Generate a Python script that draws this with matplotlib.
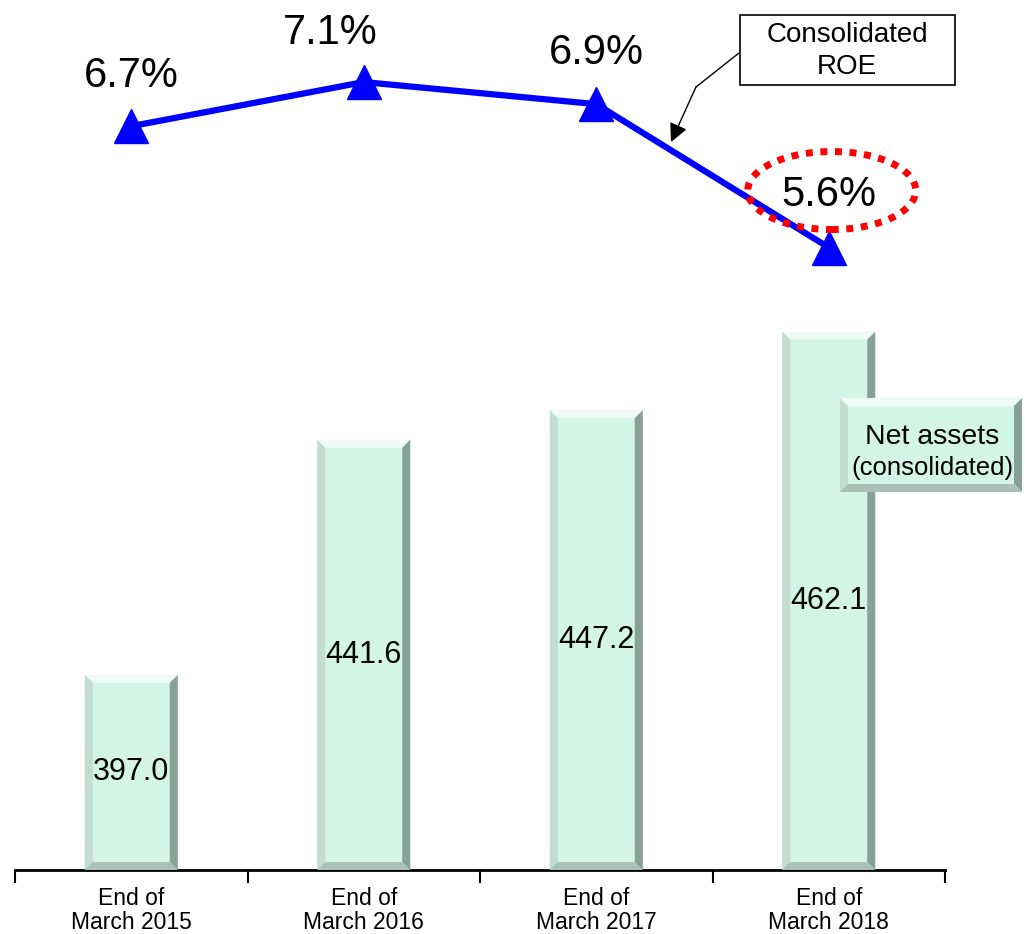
import numpy as np
import matplotlib.pyplot as plt
from matplotlib.patches import Ellipse, Polygon, Rectangle
from matplotlib.transforms import IdentityTransform

plt.rcParams['font.family'] = ['Liberation Sans', 'DejaVu Sans']

categories = ['End of\nMarch 2015', 'End of\nMarch 2016', 'End of\nMarch 2017', 'End of\nMarch 2018']
net_assets = [397.0, 441.6, 447.2, 462.1]
roe = [6.7, 7.1, 6.9, 5.6]
roe_labels = ['6.7%', '7.1%', '6.9%', '5.6%']

W, H = 1025, 934
fig = plt.figure(figsize=(W / 100, H / 100), dpi=100)
fig.patch.set_facecolor('white')

# bar axes (net assets)
ax = fig.add_axes([15 / W, 1 - 870 / H, 930 / W, 580 / H])
x = np.arange(len(categories))
ax.set_xlim(-0.5, 3.5)
ax.set_ylim(360, 470)

face = '#D2F5E7'
top_c, left_c, right_c, bot_c = '#EEFBF6', '#C3DCD2', '#86A197', '#A9C1B8'
bars = ax.bar(x, [v - 360 for v in net_assets], bottom=360, width=0.4,
              color=face, edgecolor='none', zorder=2)

bx = 8 / 232.5   # bevel width in data units (x)
by = 8 / 5.27    # bevel width in data units (y)
for b in bars:
    x0, x1 = b.get_x(), b.get_x() + b.get_width()
    y0, y1 = b.get_y(), b.get_y() + b.get_height()
    bevels = [
        ([(x0, y1), (x1, y1), (x1 - bx, y1 - by), (x0 + bx, y1 - by)], top_c),
        ([(x0, y0), (x0, y1), (x0 + bx, y1 - by), (x0 + bx, y0 + by)], left_c),
        ([(x1, y0), (x1, y1), (x1 - bx, y1 - by), (x1 - bx, y0 + by)], right_c),
        ([(x0, y0), (x1, y0), (x1 - bx, y0 + by), (x0 + bx, y0 + by)], bot_c),
    ]
    for pts, c in bevels:
        ax.add_patch(Polygon(pts, closed=True, facecolor=c, edgecolor='none', zorder=3))

for xi, v in zip(x, net_assets):
    ax.text(xi, (360 + v) / 2, f'{v:.1f}', ha='center', va='center',
            fontsize=22, color='black', zorder=4)

for s in ['top', 'right', 'left']:
    ax.spines[s].set_visible(False)
ax.spines['bottom'].set_linewidth(2)
ax.set_yticks([])
ax.set_xticks(np.arange(-0.5, 4.0, 1.0), minor=False)
ax.set_xticklabels([])
ax.tick_params(axis='x', direction='out', length=9, width=1.5)
ax.set_xticks(x, minor=True)
ax.set_xticklabels(categories, minor=True, fontsize=16.5, linespacing=1.05)
ax.tick_params(axis='x', which='minor', length=0, pad=12)
ax.set_facecolor('none')

# "Net assets (consolidated)" beveled label box
ax2 = fig.add_axes([0, 0, 1, 1], facecolor='none')
ax2.set_xlim(0, W)
ax2.set_ylim(H, 0)
ax2.axis('off')
lx0, lx1, ly0, ly1 = 840, 1022, 398, 492
bw = 8
ax2.add_patch(Polygon([(lx0, ly0), (lx1, ly0), (lx1, ly1), (lx0, ly1)], facecolor=face, edgecolor='none'))
for pts, c in [
    ([(lx0, ly0), (lx1, ly0), (lx1 - bw, ly0 + bw), (lx0 + bw, ly0 + bw)], top_c),
    ([(lx0, ly0), (lx0, ly1), (lx0 + bw, ly1 - bw), (lx0 + bw, ly0 + bw)], left_c),
    ([(lx1, ly0), (lx1, ly1), (lx1 - bw, ly1 - bw), (lx1 - bw, ly0 + bw)], right_c),
    ([(lx0, ly1), (lx1, ly1), (lx1 - bw, ly1 - bw), (lx0 + bw, ly1 - bw)], bot_c),
]:
    ax2.add_patch(Polygon(pts, facecolor=c, edgecolor='none'))
ax2.text(932, 437, 'Net assets', ha='center', va='center', fontsize=20.5)
ax2.text(932, 468, '(consolidated)', ha='center', va='center', fontsize=18.5)

# callout box "Consolidated ROE"
ax2.add_patch(Rectangle((740, 15), 215, 70, facecolor='white', edgecolor='black', lw=1.2, zorder=6))
ax2.text(847, 51, 'Consolidated\nROE', ha='center', va='center', fontsize=20,
         linespacing=1.35, zorder=7)

# line axes (ROE)
axl = fig.add_axes([15 / W, 1 - 290 / H, 930 / W, 290 / H], facecolor='none')
axl.set_xlim(-0.5, 3.5)
axl.set_ylim(5.215, 7.844)
axl.axis('off')
axl.plot(x, roe, color='#0000FF', lw=4.5, marker='^', ms=24, zorder=3, clip_on=False)

offsets = [(0, 36), (-24, 35), (0, 37), (0, 38)]
for xi, v, lab, off in zip(x, roe, roe_labels, offsets):
    axl.annotate(lab, (xi, v), xytext=off, textcoords='offset points',
                 ha='center', va='center', fontsize=30, zorder=5)

# red dotted ellipse around last value
fig.canvas.draw()
cx, cy = axl.transData.transform((x[-1], roe[-1]))
ell = Ellipse((cx + 3, cy + 57), 168, 78, transform=IdentityTransform(),
              fill=False, edgecolor='#FF0000', lw=5, linestyle=(0, (1, 1.1)), zorder=6)
fig.add_artist(ell)

# callout leader with arrow
axl.plot([(739 - 15) / 930, (696 - 15) / 930], [1 - 53 / 290, 1 - 87 / 290],
         color='black', lw=1, transform=axl.transAxes, clip_on=False)
axl.annotate('', xy=((671 - 15) / 930, 1 - 142 / 290), xytext=((696 - 15) / 930, 1 - 87 / 290),
             xycoords='axes fraction', textcoords='axes fraction',
             arrowprops=dict(arrowstyle='-|>', color='black', lw=1, mutation_scale=28,
                             shrinkA=0, shrinkB=0))

fig.savefig('out.png', dpi=100)
